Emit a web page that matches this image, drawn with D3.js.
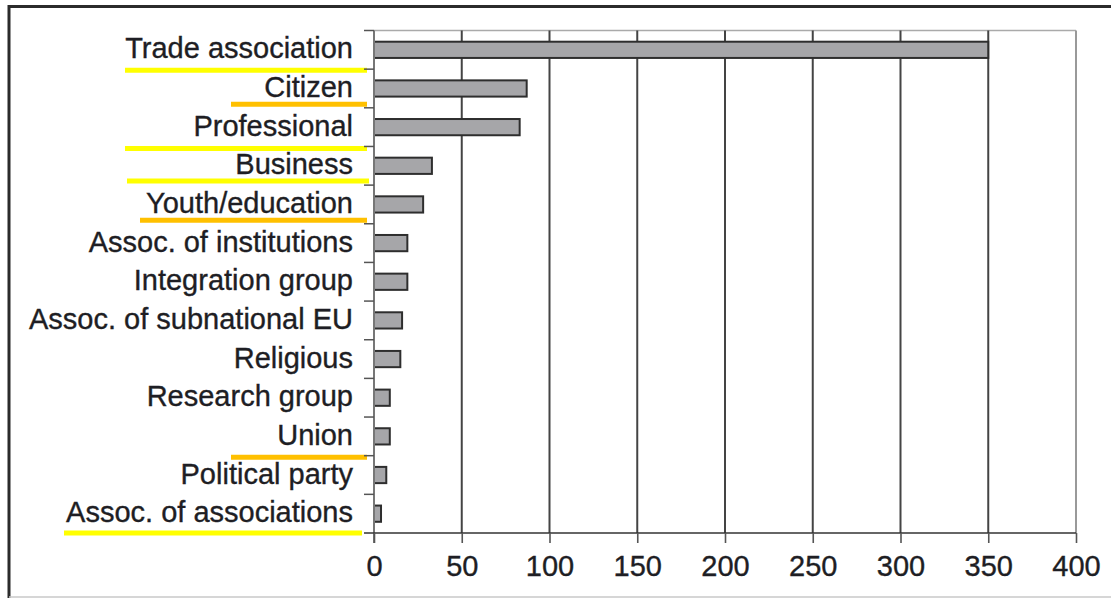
<!DOCTYPE html>
<html>
<head>
<meta charset="utf-8">
<script src="https://cdn.jsdelivr.net/npm/d3@7"></script>
<style>
  body { margin: 0; background: #fff; }
  svg { display: block; }
  text { font-family: "Liberation Sans", Arial, sans-serif; fill: #1e1e24; stroke: #1e1e24; stroke-width: 0.35px; }
</style>
</head>
<body>
<div id="chart"></div>
<script>
// data
const categories = ["Trade association", "Citizen", "Professional", "Business", "Youth/education",
  "Assoc. of institutions", "Integration group", "Assoc. of subnational EU", "Religious",
  "Research group", "Union", "Political party", "Assoc. of associations"]
const counts = [350, 87, 83, 33, 28, 19, 19, 16, 15, 9, 9, 7, 4]
const xTicks = [0, 50, 100, 150, 200, 250, 300, 350, 400]

// highlighter marks under some labels
const markedLabels = ["Trade association", "Citizen", "Professional", "Business", "Youth/education", "Union", "Assoc. of associations"]
const markColors = ["#ffff00", "#ffc000", "#ffff00", "#ffff00", "#ffc000", "#ffc000", "#ffff00"]

// style of the marks: [left x, right x, y shift from band bottom]
const markStyle = [[125, 367, 1], [231, 367, -3.5], [125, 367, 2], [127, 369, -4], [140, 367, -3.5], [231, 367, 1.5], [64, 362, 0]]

var width = 1111,
    height = 598

var svg = d3.select("#chart")
  .append("svg")
    .attr("width", width)
    .attr("height", height)

// frame round the figure
svg.append("line").attr("x1", 9).attr("x2", width).attr("y1", 6.5).attr("y2", 6.5)
  .attr("stroke", "#2b2b2b").attr("stroke-width", 3)
svg.append("line").attr("x1", 9).attr("x2", 9).attr("y1", 5).attr("y2", height)
  .attr("stroke", "#2b2b2b").attr("stroke-width", 3)
svg.append("line").attr("x1", 9).attr("x2", width).attr("y1", 597).attr("y2", 597)
  .attr("stroke", "#c8c8c8").attr("stroke-width", 1.5)

var x = d3.scaleLinear()
  .domain([0, 400])
  .range([374, 1076])

var y = d3.scaleBand()
  .domain(categories)
  .range([30.5, 533])
  .paddingInner(0.58)
  .paddingOuter(0.29)

var step = y.step()
var bandTop = d => y(d) - step * 0.29

// top border of plot
svg.append("line")
  .attr("x1", x(0)).attr("x2", x(400))
  .attr("y1", 30.5).attr("y2", 30.5)
  .attr("stroke", "#aaa").attr("stroke-width", 1.5)

// vertical grid lines
svg.selectAll(".grid")
  .data(xTicks.slice(1))
  .enter()
  .append("line")
  .attr("x1", d => x(d)).attr("x2", d => x(d))
  .attr("y1", 30.5).attr("y2", 533)
  .attr("stroke", (d, i) => i == 7 ? "#999" : "#444")
  .attr("stroke-width", 2)

// highlighter underlines
svg.selectAll(".mark")
  .data(markedLabels)
  .enter()
  .append("line")
  .attr("x1", (d, i) => markStyle[i][0])
  .attr("x2", (d, i) => markStyle[i][1])
  .attr("y1", (d, i) => bandTop(d) + step + markStyle[i][2])
  .attr("y2", (d, i) => bandTop(d) + step + markStyle[i][2])
  .attr("stroke", (d, i) => markColors[i])
  .attr("stroke-width", 5)

// bars
svg.selectAll(".bar")
  .data(categories)
  .enter()
  .append("rect")
  .attr("x", x(0))
  .attr("y", d => y(d))
  .attr("width", (d, i) => x(counts[i]) - x(0))
  .attr("height", y.bandwidth())
  .attr("fill", "#a6a6a9")
  .attr("stroke", "#2e2e2e")
  .attr("stroke-width", 2)

// y axis line and ticks at band boundaries
svg.append("line")
  .attr("x1", x(0)).attr("x2", x(0))
  .attr("y1", 30.5).attr("y2", 543)
  .attr("stroke", "#777").attr("stroke-width", 2)

svg.selectAll(".ytick")
  .data(categories)
  .enter()
  .append("line")
  .attr("x1", 364).attr("x2", x(0))
  .attr("y1", d => bandTop(d))
  .attr("y2", d => bandTop(d))
  .attr("stroke", "#555").attr("stroke-width", 1.5)

svg.selectAll(".ylabel")
  .data(categories)
  .enter()
  .append("text")
  .attr("x", 353)
  .attr("y", d => y(d) + y.bandwidth() / 2 + 8.5)
  .attr("text-anchor", "end")
  .style("font-size", "29px")
  .text(d => d)

// x axis
var xAxis = svg.append("g")
  .attr("transform", "translate(0,533)")
  .call(d3.axisBottom(x).tickValues(xTicks).tickSize(10).tickSizeOuter(0).tickPadding(12))

xAxis.select(".domain")
  .attr("d", "M364,0H" + x(400))
  .attr("stroke", "#333").attr("stroke-width", 1.5)
xAxis.selectAll(".tick line").attr("stroke", "#555").attr("stroke-width", 1.6)
xAxis.selectAll(".tick text")
  .attr("fill", "#1e1e24")
  .style("font-family", "'Liberation Sans', Arial, sans-serif")
  .style("font-size", "29px")
</script>
</body>
</html>
